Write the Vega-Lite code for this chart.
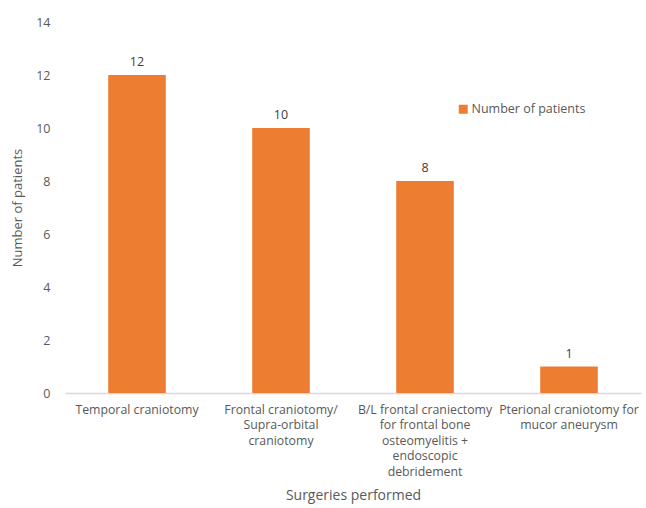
{
  "$schema": "https://vega.github.io/schema/vega-lite/v6.json",
  "width": 576,
  "height": 371,
  "autosize": {"type": "none"},
  "padding": {"left": 65, "top": 22, "right": 5, "bottom": 115},
  "background": "white",
  "config": {
    "view": {"stroke": null},
    "font": "Open Sans",
    "axis": {"labelFont": "Open Sans", "titleFont": "Open Sans", "labelColor": "#595959", "titleColor": "#595959", "titleFontWeight": "normal"}
  },
  "data": {
    "values": [
      {"surgery": "Temporal craniotomy", "patients": 12},
      {"surgery": "Frontal craniotomy/ Supra-orbital craniotomy", "patients": 10},
      {"surgery": "B/L frontal craniectomy for frontal bone osteomyelitis + endoscopic debridement", "patients": 8},
      {"surgery": "Pterional craniotomy for mucor aneurysm", "patients": 1}
    ]
  },
  "encoding": {
    "x": {
      "field": "surgery",
      "type": "nominal",
      "sort": null,
      "scale": {"paddingInner": 0.6, "paddingOuter": 0.3},
      "axis": {
        "title": "Surgeries performed",
        "titleFontSize": 14,
        "titlePadding": 11,
        "labelAngle": 0,
        "labelFontSize": 12.3,
        "labelLineHeight": 15.5,
        "labelPadding": 10,
        "labelLimit": 200,
        "ticks": false,
        "domainColor": "#d9d9d9",
        "domainWidth": 1.5,
        "labelExpr": "datum.label == 'Frontal craniotomy/ Supra-orbital craniotomy' ? ['Frontal craniotomy/', 'Supra-orbital', 'craniotomy'] : datum.label == 'B/L frontal craniectomy for frontal bone osteomyelitis + endoscopic debridement' ? ['B/L frontal craniectomy', 'for frontal bone', 'osteomyelitis +', 'endoscopic', 'debridement'] : datum.label == 'Pterional craniotomy for mucor aneurysm' ? ['Pterional craniotomy for', 'mucor aneurysm'] : datum.label"
      }
    },
    "y": {
      "field": "patients",
      "type": "quantitative",
      "scale": {"domain": [0, 14]},
      "axis": {
        "title": "Number of patients",
        "titleFontSize": 13,
        "titlePadding": 11,
        "values": [0, 2, 4, 6, 8, 10, 12, 14],
        "labelFontSize": 12.5,
        "labelPadding": 15,
        "domain": false,
        "ticks": false,
        "grid": false
      }
    }
  },
  "layer": [
    {
      "mark": {"type": "bar"},
      "encoding": {
        "color": {
          "datum": "Number of patients",
          "type": "nominal",
          "scale": {"range": ["#ED7D31"]},
          "legend": {
            "title": null,
            "orient": "none",
            "legendX": 392,
            "legendY": 81,
            "symbolType": "square",
            "symbolSize": 80,
            "symbolStrokeWidth": 0,
            "labelFont": "Open Sans",
            "labelFontSize": 12.5,
            "labelColor": "#595959",
            "labelOffset": 2
          }
        }
      }
    },
    {
      "mark": {"type": "text", "baseline": "bottom", "dy": -6, "fontSize": 12.5, "color": "#404040", "font": "Open Sans"},
      "encoding": {"text": {"field": "patients", "type": "quantitative"}}
    }
  ]
}
